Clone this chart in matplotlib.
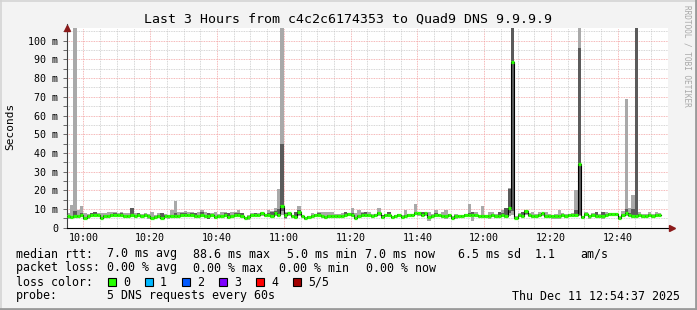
import matplotlib
matplotlib.use("Agg")
import matplotlib.pyplot as plt
import matplotlib.dates as mdates
from matplotlib.ticker import MultipleLocator, FuncFormatter
from matplotlib.patches import Rectangle
from matplotlib.lines import Line2D
import numpy as np
import pandas as pd

# one sample per minute, 5 pings each (values in ms)
times = pd.date_range("2025-12-11 09:55", periods=178, freq="min")

median = [
    6.4, 5.7, 6.4, 6.4, 7.0, 5.1, 6.0, 7.0, 7.0, 7.0,
    5.1, 6.4, 6.4, 7.0, 7.0, 7.0, 7.0, 6.4, 6.4, 7.0,
    6.4, 7.0, 6.4, 7.0, 6.0, 5.1, 5.7, 6.4, 5.4, 6.4,
    6.0, 6.4, 6.4, 6.4, 7.0, 7.0, 7.0, 7.0, 6.4, 6.4,
    7.0, 6.4, 6.4, 7.0, 5.7, 6.4, 6.4, 7.0, 5.7, 6.4,
    7.0, 7.0, 6.4, 5.0, 5.7, 7.0, 7.0, 7.0, 7.6, 7.0,
    7.0, 6.4, 7.6, 7.0, 11.8, 7.0, 7.6, 6.0, 5.7, 8.6,
    6.4, 5.1, 5.7, 6.4, 7.0, 7.0, 6.4, 5.7, 6.4, 6.4,
    6.4, 6.4, 6.4, 7.0, 7.3, 7.0, 5.1, 6.4, 7.0, 7.0,
    7.0, 6.4, 7.0, 7.6, 5.7, 7.0, 7.0, 5.7, 6.4, 7.0,
    5.7, 6.4, 7.0, 7.0, 8.0, 7.6, 7.0, 7.6, 5.7, 6.4,
    7.0, 7.0, 6.4, 6.0, 7.0, 5.1, 6.0, 6.4, 6.4, 7.0,
    7.0, 7.0, 7.0, 6.4, 6.4, 6.4, 6.0, 7.0, 6.4, 6.4,
    7.0, 6.4, 10.7, 88.6, 5.1, 7.0, 6.4, 8.9, 7.0, 6.4,
    6.4, 7.0, 7.6, 6.4, 6.4, 6.0, 6.0, 6.0, 7.0, 6.4,
    7.0, 7.0, 7.0, 34.0, 5.7, 7.3, 6.0, 7.0, 6.4, 6.4,
    6.0, 7.0, 7.3, 7.3, 7.3, 5.1, 7.0, 7.6, 7.0, 6.4,
    6.4, 7.0, 6.4, 6.4, 7.0, 6.4, 7.0, 7.0,
]

# slowest ping
ping_max = [
    8.0, 12.0, 150, 9.2, 11.5, 7.7, 7.5, 8.0, 8.5, 8.0,
    7.7, 7.8, 8.3, 8.5, 8.5, 8.0, 8.5, 7.8, 8.0, 10.3,
    7.8, 8.0, 7.5, 8.0, 7.5, 8.5, 7.0, 7.8, 7.7, 7.5,
    7.0, 9.3, 14.4, 8.5, 8.4, 9.0, 8.5, 8.5, 7.7, 8.5,
    9.5, 8.5, 7.7, 7.7, 8.5, 7.5, 8.5, 8.5, 7.7, 8.5,
    8.5, 9.5, 7.7, 5.8, 6.8, 7.7, 7.5, 7.7, 8.2, 7.5,
    9.5, 8.7, 10.3, 20.5, 150, 8.5, 8.5, 7.0, 8.2, 11.4,
    7.0, 5.8, 6.5, 7.7, 7.5, 8.5, 8.5, 8.2, 8.5, 8.5,
    7.5, 7.5, 7.7, 8.2, 7.8, 10.5, 7.7, 9.4, 8.5, 8.6,
    8.5, 7.2, 7.5, 10.3, 6.8, 7.5, 8.6, 6.5, 7.0, 7.5,
    6.8, 9.4, 7.5, 7.5, 12.7, 8.0, 8.6, 8.6, 8.5, 7.2,
    9.4, 7.5, 8.5, 9.4, 7.5, 6.0, 7.3, 7.0, 7.0, 7.5,
    12.7, 8.6, 8.5, 7.0, 11.4, 7.0, 8.5, 8.5, 7.5, 8.6,
    9.4, 10.3, 21.0, 150, 6.5, 8.0, 8.6, 9.4, 8.0, 8.5,
    7.5, 8.2, 8.0, 8.5, 7.5, 7.0, 7.5, 9.4, 8.0, 7.5,
    7.5, 7.7, 20.0, 150, 6.5, 8.5, 7.0, 7.7, 8.6, 7.5,
    8.2, 8.5, 8.0, 8.0, 8.0, 6.0, 9.0, 68.8, 10.3, 17.5,
    150, 8.5, 7.5, 7.5, 8.2, 7.5, 8.5, 8.0,
]

# 4th of 5 pings
ping_hi = [
    7.0, 6.4, 9.0, 7.0, 7.7, 5.8, 6.6, 7.7, 8.2, 7.5,
    5.8, 7.0, 7.0, 7.5, 7.6, 7.5, 7.6, 7.0, 7.0, 10.3,
    7.0, 7.6, 7.0, 7.5, 6.6, 5.8, 6.3, 7.0, 7.7, 7.0,
    6.6, 7.0, 7.7, 7.0, 7.6, 7.6, 7.5, 7.6, 7.7, 7.0,
    8.2, 7.0, 7.7, 7.5, 6.4, 7.0, 7.0, 7.6, 7.7, 7.0,
    7.6, 7.6, 7.7, 5.8, 6.3, 7.5, 7.6, 7.5, 8.0, 7.5,
    7.6, 8.6, 8.7, 10.0, 45.0, 7.7, 8.0, 6.6, 8.2, 9.4,
    7.0, 5.6, 6.3, 7.0, 7.5, 7.6, 7.0, 6.4, 7.0, 7.0,
    7.0, 7.0, 7.0, 8.2, 7.8, 7.6, 5.8, 7.0, 7.6, 8.6,
    7.5, 7.0, 7.5, 8.2, 6.8, 7.5, 8.6, 6.3, 7.0, 7.5,
    6.3, 7.0, 7.5, 7.5, 8.6, 8.0, 8.6, 8.6, 6.4, 7.0,
    7.6, 7.5, 7.0, 6.6, 7.5, 5.6, 6.6, 7.0, 7.0, 7.5,
    7.6, 8.6, 7.5, 7.0, 7.0, 7.0, 6.6, 7.5, 7.0, 8.6,
    7.6, 10.3, 20.7, 150, 5.6, 7.5, 8.6, 9.4, 7.5, 7.0,
    7.0, 7.5, 8.0, 7.0, 7.0, 6.6, 6.6, 6.6, 7.5, 7.0,
    7.5, 7.5, 9.5, 96.0, 6.3, 7.8, 6.6, 7.5, 8.6, 7.0,
    8.2, 7.5, 7.8, 7.8, 7.8, 5.6, 7.5, 10.0, 8.0, 10.0,
    150, 7.5, 7.0, 7.0, 7.5, 7.0, 7.5, 7.5,
]

# 2nd of 5 pings
ping_lo = [
    5.8, 5.2, 5.8, 5.8, 6.4, 4.8, 5.5, 6.4, 6.4, 6.4,
    4.8, 5.8, 5.8, 6.4, 6.4, 6.4, 6.4, 5.8, 5.8, 6.4,
    5.8, 6.4, 5.8, 6.4, 5.5, 4.8, 5.2, 5.8, 5.0, 5.8,
    5.5, 5.8, 5.8, 5.8, 6.4, 6.4, 6.4, 6.4, 5.8, 5.8,
    6.4, 5.8, 4.6, 6.4, 5.2, 5.8, 5.8, 6.4, 5.2, 5.8,
    6.4, 6.4, 5.8, 4.5, 5.2, 6.4, 6.4, 6.4, 7.0, 6.4,
    6.4, 5.8, 7.0, 6.4, 9.0, 5.0, 7.0, 5.5, 5.2, 7.0,
    5.8, 4.8, 5.2, 5.8, 6.4, 6.4, 5.8, 5.2, 5.8, 5.8,
    5.8, 5.8, 5.8, 6.4, 6.8, 6.4, 4.8, 5.8, 6.4, 6.4,
    6.4, 5.8, 6.4, 7.0, 5.2, 6.4, 6.4, 5.2, 5.8, 6.4,
    5.2, 5.8, 6.4, 6.4, 7.4, 7.0, 6.4, 7.0, 5.2, 5.8,
    6.4, 6.4, 5.8, 5.5, 6.4, 4.8, 5.5, 5.8, 5.8, 6.4,
    6.4, 6.4, 6.4, 5.8, 5.8, 5.8, 5.5, 6.4, 5.8, 5.8,
    6.4, 5.8, 8.0, 9.0, 4.8, 6.4, 5.8, 7.5, 6.4, 5.8,
    5.8, 6.4, 7.0, 5.8, 5.8, 5.5, 5.5, 5.5, 6.4, 5.8,
    6.4, 6.4, 6.4, 7.0, 5.2, 6.8, 5.5, 6.4, 5.8, 5.8,
    5.5, 6.4, 6.8, 6.8, 6.8, 4.8, 6.4, 7.0, 6.4, 5.8,
    5.5, 6.4, 5.8, 5.8, 6.4, 5.8, 6.4, 6.4,
]

# fastest ping
ping_min = [
    4.8, 4.6, 5.0, 5.2, 5.5, 4.2, 4.8, 5.5, 5.5, 5.8,
    4.4, 5.2, 5.0, 5.8, 5.8, 5.5, 5.8, 5.2, 5.2, 5.8,
    5.2, 5.8, 5.0, 5.8, 4.8, 4.4, 4.6, 5.2, 4.4, 5.2,
    4.8, 5.2, 5.2, 5.0, 5.8, 5.8, 5.8, 5.8, 5.2, 5.2,
    5.8, 5.2, 4.4, 5.8, 4.6, 5.2, 5.2, 5.8, 4.6, 5.2,
    5.8, 5.8, 5.2, 4.4, 4.2, 5.8, 5.8, 5.8, 6.4, 5.8,
    5.8, 5.2, 6.4, 5.8, 7.0, 4.4, 6.4, 5.0, 4.6, 6.2,
    5.2, 4.2, 4.8, 5.2, 5.8, 5.8, 5.2, 4.6, 5.2, 5.2,
    5.2, 5.2, 5.2, 5.8, 6.2, 5.8, 4.4, 5.2, 5.8, 5.8,
    5.8, 5.2, 5.8, 6.4, 4.6, 5.8, 5.8, 4.6, 5.2, 5.8,
    4.6, 5.2, 5.8, 5.8, 6.8, 6.4, 5.8, 6.4, 3.8, 5.2,
    5.8, 5.8, 5.2, 4.8, 5.8, 4.4, 4.8, 5.2, 5.2, 5.8,
    5.8, 3.8, 5.8, 5.2, 5.2, 5.2, 4.8, 5.8, 5.2, 5.2,
    5.8, 5.2, 6.4, 7.0, 4.4, 5.8, 5.2, 6.8, 5.8, 5.2,
    5.2, 5.8, 6.4, 5.2, 5.2, 4.8, 4.8, 4.8, 5.8, 5.2,
    5.8, 5.8, 5.8, 6.0, 4.6, 6.2, 4.8, 5.8, 5.2, 5.2,
    4.8, 5.8, 6.2, 6.2, 6.2, 4.2, 5.8, 6.4, 5.8, 5.2,
    5.0, 5.8, 5.2, 5.2, 5.8, 5.2, 5.8, 5.8,
]

loss_labels = ["0", "1", "2", "3", "4", "5/5"]
loss_colors = ["#26ff00", "#00b8ff", "#0059ff", "#7e00ff", "#ff0000", "#a10000"]

title = "Last 3 Hours from c4c2c6174353 to Quad9 DNS 9.9.9.9"
rtt_stats = [("median rtt:", 16), ("7.0 ms avg", 107), ("88.6 ms max", 193),
             ("5.0 ms min", 287), ("7.0 ms now", 365), ("6.5 ms sd", 458),
             ("1.1", 535), ("am/s", 580)]
loss_stats = [("packet loss:", 16), ("0.00 % avg", 107), ("0.00 % max", 193),
              ("0.00 % min", 279), ("0.00 % now", 366)]
probe_text = "5 DNS requests every 60s"
stamp = "Thu Dec 11 12:54:37 2025"

W, H = 697, 310
MONO = "DejaVu Sans Mono"
plt.rcParams["font.family"] = MONO

fig = plt.figure(figsize=(W / 100, H / 100), dpi=100)
fig.patch.set_facecolor("#f3f3f3")

x0, x1, ytop, ybot = 66.7, 668.0, 28.0, 227.7
ax = fig.add_axes([x0 / W, (H - ybot) / H, (x1 - x0) / W, (ybot - ytop) / H])
ax.set_facecolor("white")

x = mdates.date2num(times)
step = 1 / 1440
mn, lo, hi, mx, md = map(np.array, (ping_min, ping_lo, ping_hi, ping_max, median))

# smoke
ax.bar(x, mx - mn, bottom=mn, width=step, align="edge", color="#a9a9a9", linewidth=0, zorder=2)
ax.bar(x, hi - lo, bottom=lo, width=step, align="edge", color="#5b5b5b", linewidth=0, zorder=3)

# median: thin black steps + green loss-colour dashes
xs = np.append(x, x[-1] + step)
ax.step(xs, np.append(md, md[-1]), where="post", color="black", lw=0.8, zorder=4)
ax.hlines(md, x, x + step, color=loss_colors[0], lw=2.3, zorder=5)

ax.set_xlim(mdates.date2num(pd.Timestamp("2025-12-11 09:55")),
            mdates.date2num(pd.Timestamp("2025-12-11 12:55")))
ax.set_ylim(0, 106.8)

ax.xaxis.set_major_locator(mdates.MinuteLocator(byminute=[0, 20, 40]))
ax.xaxis.set_minor_locator(mdates.MinuteLocator(byminute=range(0, 60, 5)))
ax.xaxis.set_major_formatter(mdates.DateFormatter("%H:%M"))
ax.yaxis.set_major_locator(MultipleLocator(10))
ax.yaxis.set_minor_locator(MultipleLocator(5))
ax.yaxis.set_major_formatter(FuncFormatter(lambda v, p: "0" if v == 0 else f"{v:.0f} m"))

ax.set_axisbelow(True)
ax.grid(which="minor", color="#c8c8c8", ls=(0, (1, 1)), lw=0.6)
ax.grid(which="major", color="#f2a0a0", ls=(0, (1, 1)), lw=0.6)

ax.tick_params(axis="y", which="both", direction="out", length=3, width=0.6,
               color="#555555", labelsize=7.2, pad=3)
ax.tick_params(axis="x", which="both", length=0, labelsize=7.2, pad=4)

for s in ("top", "right"):
    ax.spines[s].set_visible(False)
ax.spines["left"].set_color("#404040")
ax.spines["left"].set_linewidth(0.8)
ax.spines["bottom"].set_color("black")
ax.spines["bottom"].set_linewidth(0.8)

# axis arrows
ax.plot([0], [1.0], transform=ax.transAxes, marker="^", ms=4, color="#8b1a1a",
        clip_on=False, zorder=6)
ax.add_line(Line2D([0, 0], [1.0, 1.02], transform=ax.transAxes, color="#404040",
                   lw=0.8, clip_on=False))
ax.plot([1.006], [0], transform=ax.transAxes, marker=">", ms=4, color="#8b1a1a",
        clip_on=False, zorder=6)

# frame of the whole image
fig.add_artist(Line2D([0, 1], [1 - 0.5 / H, 1 - 0.5 / H], transform=fig.transFigure,
                      color="#d4d4d4", lw=1.2))
fig.add_artist(Line2D([0.5 / W, 0.5 / W], [0, 1], transform=fig.transFigure,
                      color="#d4d4d4", lw=1.2))
fig.add_artist(Line2D([0, 1], [1.2 / H, 1.2 / H], transform=fig.transFigure,
                      color="#9a9a9a", lw=2.0))
fig.add_artist(Line2D([1 - 1.2 / W, 1 - 1.2 / W], [0, 1], transform=fig.transFigure,
                      color="#9a9a9a", lw=2.0))


def fx(px):
    return px / W


def fy(py):
    return 1 - py / H


fig.text(fx(348), fy(19), title, ha="center", va="center", fontsize=9.5)
fig.text(fx(10), fy(126), "Seconds", rotation=90, ha="center", va="center", fontsize=8)
fig.text(fx(687.5), fy(5), "RRDTOOL / TOBI OETIKER", rotation=270, ha="center",
         va="top", fontsize=5.6, color="#a8a8a8")

fs = 8.4
for txt, px in rtt_stats:
    fig.text(fx(px), fy(254), txt, ha="left", va="center", fontsize=fs)
for txt, px in loss_stats:
    fig.text(fx(px), fy(268), txt, ha="left", va="center", fontsize=fs)

fig.text(fx(16), fy(282), "loss color:", ha="left", va="center", fontsize=fs)
for k, (lab, col) in enumerate(zip(loss_labels, loss_colors)):
    bx = 108 + k * 37
    fig.add_artist(Rectangle((fx(bx), fy(286)), 8 / W, 8 / H, transform=fig.transFigure,
                             facecolor=col, edgecolor="black", lw=0.8))
    fig.text(fx(bx + 15), fy(282), lab, ha="left", va="center", fontsize=fs)

fig.text(fx(16), fy(296), "probe:", ha="left", va="center", fontsize=fs)
fig.text(fx(107), fy(296), probe_text, ha="left", va="center", fontsize=fs)
fig.text(fx(680), fy(296), stamp, ha="right", va="center", fontsize=fs)

fig.savefig("out.png", dpi=100, facecolor=fig.get_facecolor())
